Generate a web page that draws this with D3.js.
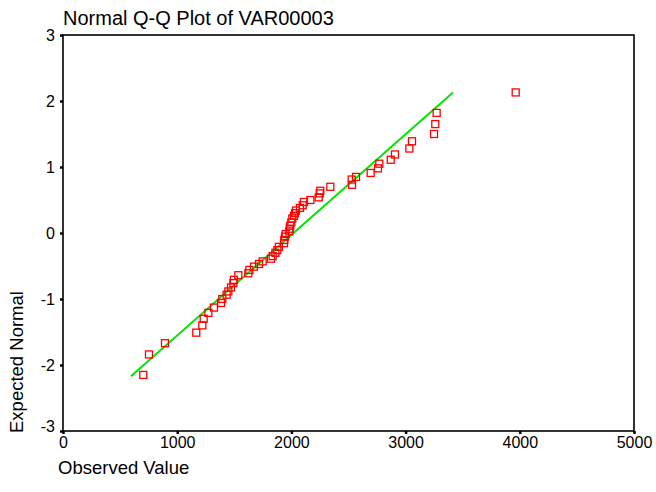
<!DOCTYPE html>
<html>
<head>
<meta charset="utf-8">
<script src="https://cdn.jsdelivr.net/npm/d3@7"></script>
<style>
html,body{margin:0;padding:0;background:#fff;}
svg{display:block;font-family:"Liberation Sans",Arial,sans-serif;}
</style>
</head>
<body>
<svg id="chart" width="656" height="492"></svg>
<script>
const observed = [703,753,893,1167,1220,1232,1273,1322,1384,1395,1433,1448,1471,1492,1497,1535,1623,1632,1672,1716,1748,
  1821,1836,1860,1877,1890,1935,1938,1944,1950,1982,1985,1990,1999,2008,2023,2032,2040,2075,2099,2110,2166,2239,2248,2253,2341,
  2531,2528,2566,2694,2758,2770,2870,2907,3033,3056,3249,3260,3272,3964];
const expected = [-2.15,-1.84,-1.67,-1.51,-1.40,-1.30,-1.21,-1.13,-1.06,-1.00,-0.935,-0.885,-0.825,-0.76,-0.71,-0.64,-0.61,-0.56,-0.51,-0.47,-0.43,
  -0.39,-0.35,-0.30,-0.26,-0.21,-0.155,-0.105,-0.055,-0.015,0.025,0.065,0.11,0.16,0.22,0.26,0.30,0.34,0.38,0.42,0.47,0.50,0.54,0.60,0.64,0.70,
  0.73,0.81,0.85,0.91,0.98,1.05,1.11,1.19,1.28,1.39,1.50,1.65,1.82,2.13];
const refLineX = [595, 3415];
const refLineY = [-2.17, 2.13];
const xTicks = [0,1000,2000,3000,4000,5000];
const yTicks = [-3,-2,-1,0,1,2,3];
const title = "Normal Q-Q Plot of VAR00003";
const xTitle = "Observed Value";
const yTitle = "Expected Normal";

const svg = d3.select("#chart");
const L = 63, R = 634, T = 35, B = 431;
const x = d3.scaleLinear().domain([0,5000]).range([L,R]);
const y = d3.scaleLinear().domain([-3,3]).range([B,T]);

// frame
svg.append("rect").attr("x",L).attr("y",T).attr("width",R-L).attr("height",B-T)
  .attr("fill","none").attr("stroke","#000").attr("stroke-width",1.6);

const fmt = d => String(d);
const xAxis = svg.append("g").attr("transform",`translate(0,${B})`)
  .call(d3.axisBottom(x).tickValues(xTicks).tickSize(3).tickPadding(3).tickFormat(fmt));
const yAxis = svg.append("g").attr("transform",`translate(${L},0)`)
  .call(d3.axisLeft(y).tickValues(yTicks).tickSize(3).tickPadding(5).tickFormat(fmt));
[xAxis,yAxis].forEach(g=>{
  g.select(".domain").remove();
  g.selectAll(".tick line").attr("stroke","#000").attr("stroke-width",2.5);
  g.selectAll(".tick text").attr("fill","#000").style("font-size","16px").style("font-family","Liberation Sans, Arial, sans-serif");
});
// lowest y label sits slightly above its tick
yAxis.selectAll(".tick").filter(d => d === -3).select("text").attr("dy","0.05em");

// reference line
svg.append("line")
  .attr("x1",x(refLineX[0])).attr("y1",y(refLineY[0]))
  .attr("x2",x(refLineX[1])).attr("y2",y(refLineY[1]))
  .attr("stroke","#00e600").attr("stroke-width",2);

// points
const s = 7;
svg.append("g").selectAll("rect").data(observed.map((v,i)=>[v,expected[i]])).join("rect")
  .attr("x",d=>x(d[0])-s/2).attr("y",d=>y(d[1])-s/2)
  .attr("width",s).attr("height",s)
  .attr("fill","none").attr("stroke","#ff0000").attr("stroke-width",1.3);

svg.append("text").attr("x",L).attr("y",25).text(title).style("font-size","20px");
svg.append("text").attr("x",58).attr("y",474).text(xTitle).style("font-size","18.5px");
svg.append("text").attr("transform",`translate(23,433) rotate(-90)`).text(yTitle).style("font-size","18.5px");
</script>
</body>
</html>
